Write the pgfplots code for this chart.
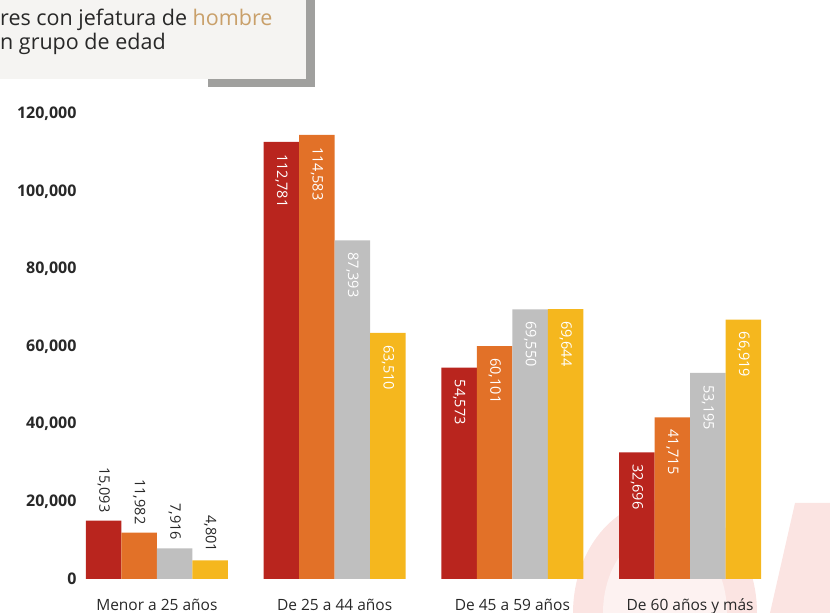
\documentclass[border=0pt]{standalone}
\usepackage{pgfplots}
\pgfplotsset{compat=1.18}
\usepackage{fontspec}
\setmainfont{Open Sans}
\definecolor{cred}{RGB}{185,37,30}
\definecolor{corange}{RGB}{226,113,40}
\definecolor{cgray}{RGB}{191,191,191}
\definecolor{cyellow}{RGB}{245,183,30}
\definecolor{txtdark}{RGB}{40,40,40}
\definecolor{tan}{RGB}{201,160,106}
\definecolor{boxbg}{RGB}{245,244,242}
\definecolor{shadowc}{RGB}{160,160,158}
\definecolor{wmA}{RGB}{251,228,226}
\definecolor{wmB}{RGB}{253,242,241}
\pgfplotsset{
  myplace/.code={%
    \pgfmathparse{\myx<0.5 ? 1 : 0}%
    \ifdim\pgfmathresult pt>0.5pt
      \pgfkeysalso{/tikz/anchor=east, /tikz/inner xsep=8pt, /tikz/text=txtdark}%
    \fi
  }
}
\begin{document}
\begin{tikzpicture}[x=1pt,y=1pt]
\useasboundingbox (0,0) rectangle (830,613);
% faint background watermark
\fill[wmA] (573,0) arc[start angle=180,end angle=0,x radius=92,y radius=113] -- cycle;
\fill[wmB] (603,0) arc[start angle=180,end angle=0,x radius=62,y radius=83] -- cycle;
\fill[wmA] (770,0) -- (795,110) -- (830,110) -- (830,0) -- cycle;
% title box
\fill[shadowc] (208,526) rectangle (315,534);
\fill[shadowc] (306,526) rectangle (315,613);
\fill[boxbg] (0,534) rectangle (306,613);
\node[anchor=base west, inner sep=0pt, text=txtdark, font=\fontsize{21.5}{26}\selectfont] at (0,587) {res con jefatura de \textcolor{tan}{hombre}};
\node[anchor=base west, inner sep=0pt, text=txtdark, font=\fontsize{21.5}{26}\selectfont] at (0,563) {n grupo de edad};
\begin{axis}[
  at={(68pt,34pt)}, anchor=south west,
  scale only axis, width=711pt, height=465pt,
  xmin=-0.5, xmax=3.5, ymin=0, ymax=120000,
  ybar=0pt, bar width=35.5pt,
  clip=false,
  axis line style={draw=none}, tick style={draw=none},
  xtick=data,
  xticklabels={Menor a 25 años, De 25 a 44 años, De 45 a 59 años, De 60 años y más},
  xticklabel style={font=\fontsize{15.5}{18}\selectfont, text=txtdark, yshift=-12pt},
  ytick={0,20000,40000,60000,80000,100000,120000},
  scaled y ticks=false,
  yticklabel style={font=\fontsize{16}{18}\selectfont\bfseries, text=txtdark, xshift=12pt,
    /pgf/number format/fixed, /pgf/number format/1000 sep={,}, /pgf/number format/assume math mode=true},
  visualization depends on={rawx \as \myx},
  nodes near coords={\pgfmathprintnumber[fixed,precision=0,1000 sep={,},assume math mode=true]{\pgfplotspointmeta}},
  every node near coord/.append style={rotate=-90, anchor=west, inner xsep=12pt, inner ysep=0pt, font=\fontsize{14.5}{17}\selectfont, text=white, /pgfplots/myplace},
]
\addplot[fill=cred, draw=none] coordinates {(0,15093) (1,112781) (2,54573) (3,32696)};
\addplot[fill=corange, draw=none] coordinates {(0,11982) (1,114583) (2,60101) (3,41715)};
\addplot[fill=cgray, draw=none] coordinates {(0,7916) (1,87393) (2,69550) (3,53195)};
\addplot[fill=cyellow, draw=none] coordinates {(0,4801) (1,63510) (2,69644) (3,66919)};
\end{axis}
\end{tikzpicture}
\end{document}
